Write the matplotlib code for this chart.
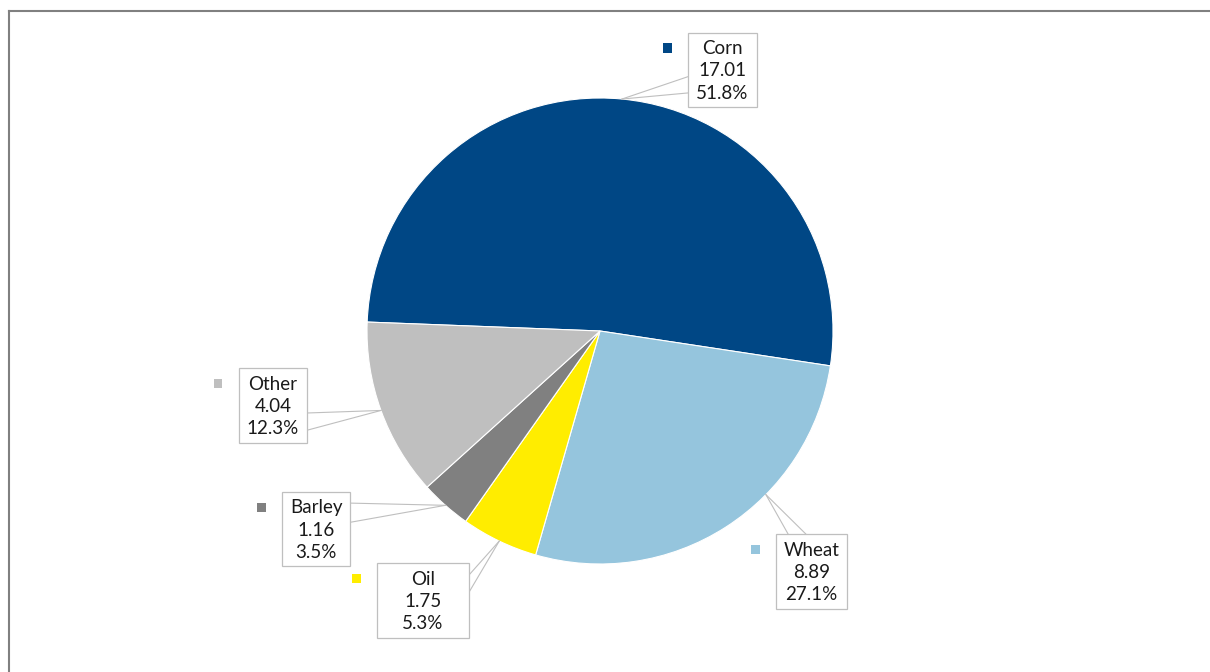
import matplotlib.pyplot as plt
from matplotlib.patches import Rectangle
from matplotlib.lines import Line2D
import numpy as np

plt.rcParams['font.family'] = ['Lato', 'DejaVu Sans']

# data
crops = ['Corn', 'Wheat', 'Oil', 'Barley', 'Other']
values = [17.01, 8.89, 1.75, 1.16, 4.04]
colors = ['#004785', '#95C5DD', '#FFED00', '#808080', '#BFBFBF']

# layout (pixels): box centre, box size, which side the leader leaves from,
# where on that side (fractions), optional leader tip angle
W, H = 1210, 672
CX, CY, R = 600, 331, 233
boxes = {
    'Corn':   dict(c=(722.5, 70), s=(69, 74), side='left',  f=(0.59, 0.81)),
    'Wheat':  dict(c=(811.5, 571.5), s=(71, 75), side='top', f=(0.17, 0.42), tip=-44.6),
    'Oil':    dict(c=(423, 600.5), s=(92, 75), side='right', f=(0.16, 0.39)),
    'Barley': dict(c=(316, 529), s=(68, 74), side='right', f=(0.15, 0.41)),
    'Other':  dict(c=(273, 405.5), s=(68, 75), side='right', f=(0.60, 0.83)),
}

def px(x, y):
    # pixel (from top-left) -> data units where the pie radius is 1
    return (x - CX) / R, (CY - y) / R

fig = plt.figure(figsize=(W / 100, H / 100), dpi=100)
ax = fig.add_axes([0, 0, 1, 1])

total = sum(values)
start = 177.8
wedges, _ = ax.pie(values, colors=colors, startangle=start, counterclock=False,
                   radius=1, center=(0, 0), frame=True,
                   wedgeprops=dict(edgecolor='white', linewidth=0.8))
ax.set_xlim(-CX / R, (W - CX) / R)
ax.set_ylim(-(H - CY) / R, CY / R)
ax.set_aspect('auto')
ax.axis('off')

grey = '#BFBFBF'
for w, name, v in zip(wedges, crops, values):
    b = boxes[name]
    mid = np.deg2rad(b.get('tip', (w.theta1 + w.theta2) / 2))
    tip = (np.cos(mid), np.sin(mid))

    bx, by = b['c']
    bw, bh = b['s']
    left, top = bx - bw / 2, by - bh / 2
    x0, y0 = px(left, top + bh)
    ax.add_patch(Rectangle((x0, y0), bw / R, bh / R, facecolor='white',
                           edgecolor=grey, linewidth=0.9, zorder=3))

    # two leader lines from the box edge to the slice
    for f in b['f']:
        if b['side'] == 'left':
            p = px(left, top + f * bh)
        elif b['side'] == 'right':
            p = px(left + bw, top + f * bh)
        else:
            p = px(left + f * bw, top)
        ax.add_line(Line2D([p[0], tip[0]], [p[1], tip[1]], color=grey,
                           linewidth=0.8, zorder=2))

    tx, ty = px(bx, by + 1)
    ax.text(tx, ty, '%s\n%.2f\n%.1f%%' % (name, v, v / total * 100),
            ha='center', va='center', fontsize=13.5, color='#1a1a1a',
            linespacing=1.36, zorder=4)

    # legend key next to the box
    kx, ky = px(left - 21, top + 15)
    ax.add_patch(Rectangle((kx - 4.5 / R, ky - 4.5 / R), 9 / R, 9 / R,
                           facecolor=w.get_facecolor(), edgecolor='none', zorder=3))

# outer frame
fig.add_artist(Line2D([8.5 / W, 1], [1 - 10.5 / H, 1 - 10.5 / H], color='#808080',
                      linewidth=1.5, transform=fig.transFigure))
fig.add_artist(Line2D([8.5 / W, 8.5 / W], [0, 1 - 10.5 / H], color='#808080',
                      linewidth=1.5, transform=fig.transFigure))

fig.savefig('out.png', dpi=100)
